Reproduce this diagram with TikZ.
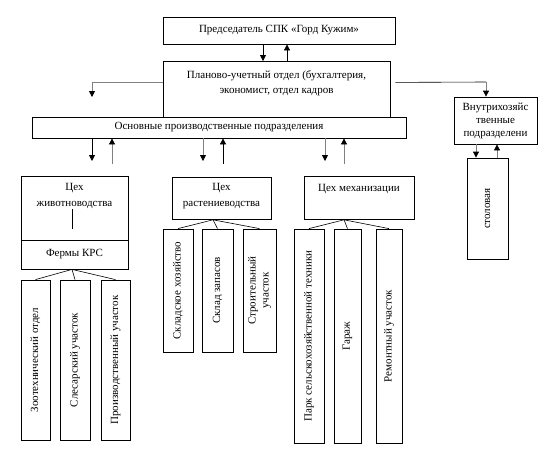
\documentclass[tikz,border=0pt]{standalone}
\usepackage{fontspec}
\setmainfont{Liberation Serif}
\usepackage{tikz}
\usetikzlibrary{arrows.meta}
\definecolor{LinkGray}{HTML}{808080}

\begin{document}
\begin{tikzpicture}[
 x=1pt,y=1pt,
 font=\fontsize{11}{15}\selectfont,
 box/.style={draw,line width=.8pt,inner sep=2pt,align=center},
 vbox/.style={box,rotate=90},
 wh/.style 2 args={minimum width=#1,minimum height=#2},
 link/.style={-{Triangle[length=6pt,width=6pt]},line width=.8pt},
 graylink/.style={-{Triangle[length=6pt,width=6pt,color=black]},draw=LinkGray,line width=.8pt},
 tree/.style={line width=.6pt}
]
 \useasboundingbox (0,0) rectangle (553,-455);
 % management
 \node[box,wh={232pt}{27pt}] (chair) at (279,-30.5) {Председатель СПК «Горд Кужим»};
 \node[box,wh={227pt}{56pt},anchor=north,inner ysep=9pt,text depth=15pt] (plan) at (276.5,-61)
   {Планово-учетный отдел (бухгалтерия,\\экономист, отдел кадров};
 \node[box,wh={374pt}{21pt},fill=white] (main) at (219,-127.5) {Основные производственные подразделения};
 \node[box,wh={83pt}{47pt},font=\fontsize{11}{13}\selectfont] (ext) at (495.5,-120.5)
   {Внутрихозяйс\\твенные\\подразделени};
 \node[vbox,wh={101pt}{41pt}] (stol) at (487.5,-208.5) {столовая};
 % workshops
 \node[box,wh={107pt}{64pt},anchor=north,inner ysep=6.3pt,text depth=28pt,
   font=\fontsize{11}{16}\selectfont] (anim) at (74.5,-176) {Цех\\животноводства};
 \node[box,wh={107pt}{29pt}] (farm) at (74.5,-254.5) {Фермы КРС};
 \node[box,wh={99pt}{42pt},anchor=north,inner ysep=5.3pt,text depth=8pt,
   font=\fontsize{11}{16}\selectfont] (rast) at (221.5,-177) {Цех\\растениеводства};
 \node[box,wh={110pt}{43pt},anchor=north,inner ysep=7.3pt,text depth=21pt] (mech) at (359,-176) {Цех механизации};
 % sections
 \node[vbox,wh={160pt}{29pt}] (zoo) at (35.5,-360) {Зоотехнический отдел};
 \node[vbox,wh={160pt}{30pt}] (fitter) at (75,-360) {Слесарский участок};
 \node[vbox,wh={160pt}{29pt}] (indust) at (115.5,-360) {Производственный участок};
 \node[vbox,wh={123pt}{30pt}] (store) at (178,-290.5) {Складское хозяйство};
 \node[vbox,wh={123pt}{31pt}] (stock) at (217.5,-290.5) {Склад запасов};
 \node[vbox,wh={123pt}{33pt},font=\fontsize{11}{13}\selectfont] (build) at (259.5,-290.5) {Строительный\\участок};
 \node[vbox,wh={214pt}{30pt}] (park) at (309,-336) {Парк сельскохозяйственной техники};
 \node[vbox,wh={214pt}{27pt}] (garage) at (347.5,-336) {Гараж};
 \node[vbox,wh={214pt}{26pt}] (repair) at (389,-336) {Ремонтный участок};
 % links
 \draw[link] ([xshift=-16pt]chair.south) -- ([xshift=-13.5pt]plan.north);
 \draw[link] ([xshift=10.5pt]plan.north) -- ([xshift=8pt]chair.south);
 \coordinate (lend) at (92,-97);
 \coordinate (rbend) at (486,-82);
 \draw[graylink] ([yshift=7pt]plan.west) -| (lend);
 \draw[tree] ([xshift=5pt,yshift=7pt]plan.east) -- (rbend);
 \draw[graylink] (rbend) -- (rbend |- ext.north);
 \foreach \xd/\xu/\sd/\su in {92/112/link/graylink,203/223/graylink/link,325/344/graylink/graylink}{
   \coordinate (d\xd) at (\xd,-161);
   \coordinate (u\xu) at (\xu,-164);
   \draw[\sd] (main.south -| d\xd) -- (d\xd);
   \draw[\su] (u\xu) -- (main.south -| u\xu);
 }
 \draw[graylink] ([xshift=-19.5pt]ext.south) -- ([xshift=-11.5pt]stol.east);
 \draw[graylink] ([xshift=9.5pt]stol.east) -- ([xshift=1.5pt]ext.south);
 \draw[tree] ([xshift=-2.5pt,yshift=-1pt]anim.center) -- ([xshift=-2.5pt,yshift=-21pt]anim.center);
 \foreach \c in {zoo,fitter,indust}
   \draw[tree] ([xshift=-2.5pt]farm.south) -- (\c.east);
 \foreach \c in {store,stock,build}
   \draw[tree] ([xshift=-8.5pt]rast.south) -- (\c.east);
 \foreach \c in {park,garage,repair}
   \draw[tree] ([xshift=-15pt]mech.south) -- (\c.east);
\end{tikzpicture}
\end{document}
